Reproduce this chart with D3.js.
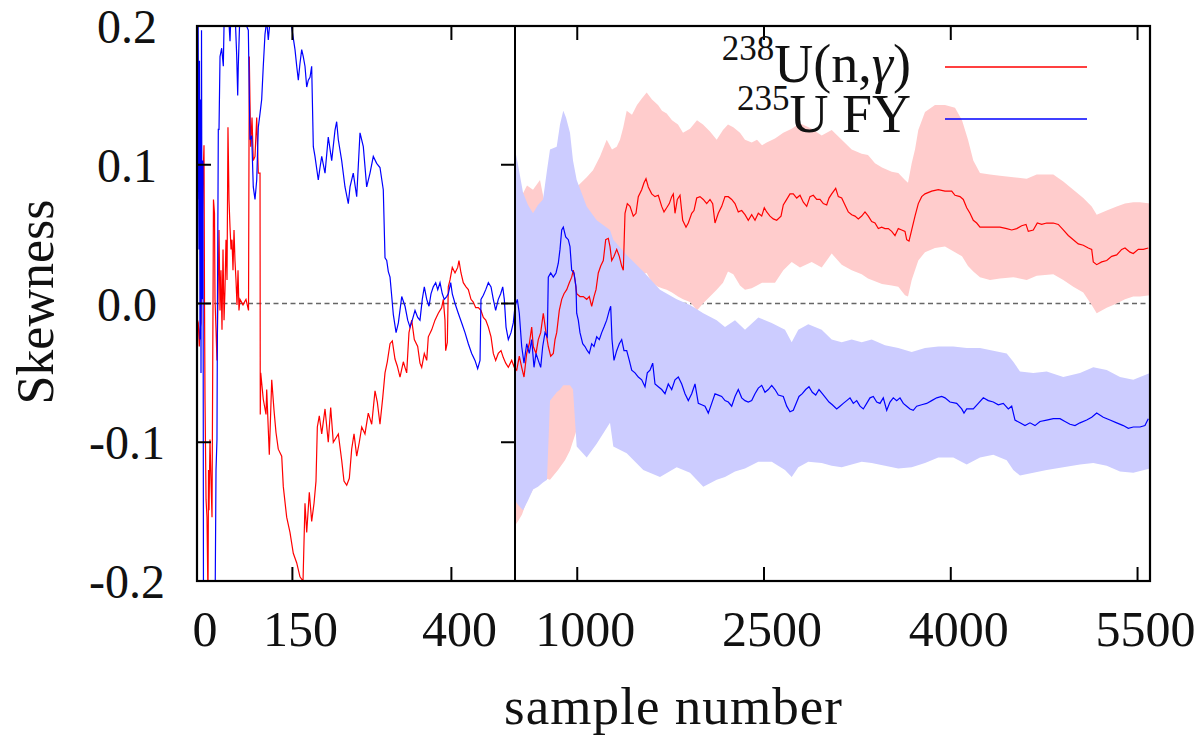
<!DOCTYPE html>
<html><head><meta charset="utf-8">
<script src="https://cdn.jsdelivr.net/npm/d3@7"></script>
<style>body{margin:0;background:#fff}svg{display:block}text{font-family:"Liberation Serif","Times New Roman",serif;fill:#111}</style>
</head><body><svg id="c" width="1202" height="735"></svg>
<script>
const xTicks = [0,150,400,1000,2500,4000,5500];
const xTickLabels = ["0","150","400","1000","2500","4000","5500"];
const yTicks = [-0.2,-0.1,0,0.1,0.2];
const yTickLabels = ["-0.2","-0.1","0.0","0.1","0.2"];
const seriesSup = ["238","235"];
const seriesMain = ["U(n,","U FY"];
const seriesGreek = ["\u03b3",""];
const seriesTail = [")",""];

// 238U(n,gamma) skewness [sample, value]
const redSkew = [[0.8,-0.012],[2.0,-0.014],[3.6,-0.031],[4.7,-0.019],[6.3,-0.014],[7.9,0.046],[9.4,0.089],[11.0,0.114],[11.8,0.003],[12.6,-0.069],[14.2,-0.141],[15.7,-0.154],[17.3,-0.213],[18.1,-0.120],[18.9,-0.149],[20.4,-0.098],[22.0,-0.127],[23.6,-0.154],[25.2,0.003],[25.9,0.075],[27.5,0.065],[28.3,0.003],[29.9,-0.019],[31.4,-0.041],[33.0,0.003],[34.6,0.053],[36.2,-0.005],[37.7,0.024],[39.3,-0.019],[40.9,0.039],[42.5,-0.012],[44.0,0.010],[45.6,0.046],[47.2,0.017],[48.7,0.127],[50.3,0.075],[51.9,0.055],[53.5,0.039],[55.0,0.046],[56.6,0.024],[58.2,0.053],[59.7,0.031],[61.3,0.017],[62.9,-0.001],[64.5,0.024],[66.0,-0.005],[67.6,0.003],[72.3,-0.001],[77.0,0.003],[81.0,-0.005],[82.2,0.178],[84.4,0.113],[86.5,0.134],[88.5,0.103],[91.2,0.106],[93.9,0.134],[96.4,0.094],[99.1,0.094],[99.5,-0.080],[100.2,-0.050],[104.2,-0.069],[108.5,-0.080],[109.6,-0.062],[113.7,-0.109],[117.5,-0.055],[121.1,-0.077],[124.2,-0.093],[127.8,-0.105],[133.2,-0.110],[135.7,-0.132],[141.0,-0.154],[146.2,-0.165],[151.4,-0.180],[156.8,-0.187],[161.9,-0.197],[166.7,-0.200],[169.8,-0.144],[172.5,-0.165],[176.6,-0.136],[180.3,-0.157],[184.0,-0.144],[187.1,-0.128],[189.2,-0.089],[192.3,-0.081],[196.1,-0.094],[201.3,-0.076],[206.4,-0.100],[210.2,-0.075],[214.3,-0.100],[222.2,-0.094],[227.5,-0.113],[231.1,-0.128],[235.4,-0.131],[239.5,-0.126],[243.2,-0.105],[246.9,-0.094],[251.1,-0.110],[255.2,-0.100],[259.0,-0.089],[264.1,-0.094],[269.3,-0.079],[274.7,-0.087],[279.9,-0.063],[283.5,-0.071],[287.7,-0.087],[292.0,-0.068],[295.6,-0.050],[299.2,-0.042],[303.5,-0.029],[307.1,-0.027],[311.3,-0.040],[314.9,-0.045],[319.2,-0.053],[324.4,-0.042],[327.0,-0.046],[329.7,-0.050],[333.3,-0.021],[337.6,-0.012],[341.7,-0.026],[347.0,-0.031],[350.6,-0.043],[353.3,-0.046],[357.4,-0.036],[361.2,-0.041],[363.7,-0.024],[369.0,-0.019],[374.2,-0.012],[379.4,-0.007],[384.7,-0.003],[387.3,0.003],[389.9,-0.012],[391.0,-0.034],[393.6,-0.028],[395.1,0.012],[397.8,0.017],[401.4,0.026],[405.7,0.022],[409.9,0.026],[411.9,0.031],[415.1,0.022],[418.7,0.015],[423.0,0.012],[426.6,0.010],[430.8,0.003],[434.4,0.001],[438.2,-0.003],[442.3,-0.003],[446.5,-0.005],[450.2,-0.010],[454.0,-0.012],[458.1,-0.017],[462.3,-0.024],[465.9,-0.036],[469.6,-0.041],[473.7,-0.036],[478.0,-0.034],[481.6,-0.039],[485.4,-0.043],[489.5,-0.046],[494.8,-0.041],[498.9,-0.046],[513.7,-0.048],[534.5,-0.038],[553.8,-0.046],[572.3,-0.053],[594.0,-0.036],[614.9,-0.029],[634.1,-0.017],[647.0,-0.031],[668.7,-0.036],[687.1,-0.026],[706.4,-0.021],[727.3,-0.007],[749.0,-0.021],[767.4,-0.031],[786.7,-0.038],[807.6,-0.036],[821.3,-0.026],[834.9,-0.021],[855.8,-0.005],[875.1,0.003],[893.5,0.007],[915.2,0.010],[936.1,0.015],[955.4,0.019],[968.2,0.024],[981.9,0.017],[995.5,0.007],[1022.0,0.005],[1048.6,0.005],[1075.9,0.003],[1096.7,0.005],[1116.0,-0.002],[1134.5,0.005],[1150.6,0.010],[1169.0,0.022],[1188.3,0.027],[1209.2,0.031],[1228.5,0.046],[1249.3,0.047],[1263.0,0.041],[1276.6,0.031],[1295.1,0.034],[1316.8,0.039],[1337.7,0.034],[1356.9,0.027],[1369.8,0.024],[1383.5,0.065],[1402.0,0.072],[1423.6,0.070],[1450.1,0.063],[1471.8,0.065],[1490.3,0.077],[1517.6,0.082],[1536.1,0.087],[1552.1,0.090],[1570.6,0.084],[1597.9,0.079],[1624.4,0.077],[1650.9,0.078],[1678.2,0.070],[1696.7,0.066],[1718.4,0.069],[1739.3,0.072],[1758.5,0.077],[1771.4,0.079],[1785.0,0.065],[1803.5,0.075],[1825.2,0.078],[1846.9,0.060],[1873.4,0.055],[1891.9,0.058],[1919.2,0.065],[1937.6,0.067],[1959.3,0.076],[1985.8,0.077],[2012.3,0.075],[2039.6,0.072],[2066.1,0.075],[2087.8,0.072],[2106.3,0.058],[2132.8,0.065],[2160.1,0.070],[2186.6,0.077],[2213.1,0.077],[2240.4,0.075],[2266.9,0.072],[2293.4,0.066],[2320.7,0.067],[2347.2,0.064],[2373.7,0.060],[2401.0,0.064],[2427.6,0.060],[2454.1,0.065],[2481.4,0.063],[2502.2,0.069],[2521.5,0.066],[2548.0,0.063],[2574.5,0.061],[2601.8,0.060],[2636.4,0.063],[2654.8,0.071],[2682.2,0.075],[2708.7,0.079],[2735.2,0.079],[2762.5,0.076],[2789.0,0.078],[2815.5,0.073],[2842.8,0.070],[2869.3,0.077],[2895.8,0.078],[2923.1,0.075],[2949.6,0.075],[2976.1,0.072],[3003.4,0.071],[3021.9,0.076],[3043.6,0.079],[3075.7,0.083],[3096.6,0.077],[3123.9,0.076],[3150.4,0.071],[3176.9,0.066],[3204.2,0.064],[3230.7,0.063],[3257.2,0.061],[3284.5,0.063],[3311.0,0.066],[3337.5,0.063],[3364.8,0.059],[3391.3,0.058],[3417.8,0.054],[3445.1,0.055],[3471.7,0.054],[3498.2,0.054],[3525.5,0.052],[3552.0,0.049],[3578.5,0.054],[3605.8,0.053],[3632.3,0.052],[3646.0,0.046],[3664.4,0.045],[3686.1,0.053],[3712.6,0.063],[3739.1,0.072],[3766.4,0.077],[3792.9,0.079],[3846.7,0.081],[3899.7,0.082],[3953.5,0.081],[4007.3,0.081],[4033.9,0.078],[4074.0,0.077],[4100.5,0.075],[4127.9,0.069],[4154.3,0.065],[4180.8,0.060],[4208.1,0.058],[4234.6,0.055],[4288.4,0.055],[4341.4,0.055],[4395.3,0.055],[4449.1,0.054],[4489.2,0.053],[4529.4,0.054],[4569.5,0.056],[4604.1,0.057],[4622.5,0.052],[4662.7,0.053],[4694.8,0.058],[4730.1,0.057],[4770.3,0.058],[4823.3,0.058],[4863.4,0.057],[4903.6,0.053],[4943.7,0.049],[4983.9,0.046],[5024.0,0.043],[5064.2,0.042],[5104.4,0.040],[5131.7,0.039],[5144.5,0.030],[5171.9,0.028],[5212.0,0.030],[5252.2,0.031],[5292.3,0.034],[5332.5,0.035],[5372.7,0.039],[5399.2,0.040],[5439.3,0.037],[5465.8,0.036],[5506.0,0.039],[5546.1,0.039],[5586.3,0.040]];

// 235U FY skewness [sample, value]
const blueSkew = [[0.8,0.075],[1.6,0.226],[3.1,0.039],[3.9,0.175],[4.7,-0.026],[5.5,0.147],[6.3,-0.050],[7.1,0.197],[7.9,0.003],[9.4,0.103],[10.2,-0.228],[20.4,-0.235],[28.3,-0.228],[29.9,-0.120],[31.4,-0.098],[32.2,0.003],[33.0,0.075],[33.5,0.126],[34.6,0.125],[36.2,0.178],[38.8,0.184],[41.4,0.171],[42.9,0.211],[49.2,0.211],[51.9,0.189],[53.5,0.211],[59.7,0.211],[62.4,0.179],[64.0,0.150],[64.9,0.171],[67.6,0.211],[80.7,0.197],[83.3,0.118],[86.0,0.121],[88.5,0.084],[91.2,0.075],[93.9,0.089],[96.4,0.127],[99.1,0.137],[101.7,0.147],[104.2,0.171],[106.9,0.194],[109.6,0.204],[112.1,0.190],[114.8,0.204],[130.5,0.211],[146.2,0.208],[148.9,0.199],[154.1,0.183],[156.8,0.171],[159.3,0.161],[161.9,0.173],[164.6,0.183],[167.1,0.178],[169.8,0.171],[172.5,0.156],[175.0,0.161],[177.7,0.163],[180.3,0.171],[182.9,0.113],[185.5,0.106],[190.7,0.089],[193.4,0.098],[196.1,0.106],[201.3,0.094],[206.4,0.120],[211.8,0.103],[217.0,0.125],[219.6,0.131],[222.2,0.118],[227.5,0.103],[232.7,0.084],[237.9,0.072],[240.6,0.084],[245.7,0.094],[251.1,0.077],[256.3,0.123],[261.5,0.113],[266.8,0.084],[272.0,0.094],[277.2,0.106],[282.5,0.101],[287.7,0.098],[292.9,0.082],[295.6,0.033],[298.3,0.031],[300.8,0.023],[303.5,0.019],[306.2,0.005],[308.7,-0.008],[313.0,-0.021],[316.6,-0.014],[321.9,0.005],[327.1,-0.002],[331.3,-0.012],[334.9,-0.017],[338.5,-0.012],[342.8,-0.005],[347.0,-0.010],[350.6,-0.012],[354.2,0.003],[357.4,0.012],[361.2,0.003],[364.8,-0.002],[367.9,0.007],[371.5,0.012],[375.3,0.015],[378.5,0.010],[382.1,0.015],[385.7,0.007],[388.8,0.003],[392.6,0.005],[395.1,0.007],[398.9,0.015],[401.4,0.007],[405.7,0.000],[410.8,-0.007],[416.2,-0.014],[421.4,-0.021],[426.6,-0.029],[431.9,-0.036],[437.1,-0.041],[441.3,-0.047],[445.0,-0.041],[446.5,0.003],[450.2,0.006],[454.0,0.010],[458.1,0.015],[462.3,0.012],[465.9,0.003],[469.6,-0.005],[473.7,0.003],[477.5,0.007],[480.7,0.012],[483.2,0.003],[485.9,-0.017],[489.5,-0.026],[493.7,-0.021],[497.3,-0.014],[500.0,-0.002],[518.5,0.003],[534.5,-0.007],[553.8,-0.031],[572.3,-0.043],[594.0,-0.029],[614.9,-0.036],[634.1,-0.026],[652.6,-0.046],[668.7,-0.036],[687.1,-0.041],[706.4,-0.046],[722.5,-0.031],[740.9,-0.021],[759.4,-0.024],[767.4,0.019],[786.7,0.022],[807.6,0.019],[829.3,0.022],[847.8,0.029],[861.4,0.039],[875.1,0.053],[887.9,0.055],[907.2,0.048],[928.1,0.046],[941.7,0.041],[955.4,0.024],[973.9,0.022],[989.9,0.012],[995.5,-0.007],[1008.4,-0.012],[1022.0,-0.021],[1043.7,-0.029],[1062.2,-0.031],[1080.7,-0.034],[1096.7,-0.036],[1116.0,-0.029],[1134.5,-0.031],[1156.2,-0.024],[1177.1,-0.026],[1196.3,-0.021],[1214.8,-0.017],[1236.5,-0.012],[1257.4,-0.005],[1268.6,-0.002],[1279.1,-0.026],[1295.1,-0.041],[1316.8,-0.034],[1337.7,-0.029],[1356.9,-0.026],[1375.4,-0.034],[1397.1,-0.034],[1418.0,-0.041],[1437.3,-0.048],[1463.8,-0.050],[1490.3,-0.053],[1517.6,-0.055],[1544.1,-0.060],[1562.5,-0.050],[1584.3,-0.048],[1605.9,-0.043],[1624.4,-0.058],[1650.9,-0.060],[1678.2,-0.062],[1704.7,-0.065],[1731.2,-0.058],[1758.5,-0.062],[1785.0,-0.055],[1811.6,-0.053],[1838.9,-0.058],[1865.4,-0.065],[1891.9,-0.070],[1919.2,-0.065],[1945.7,-0.058],[1972.2,-0.072],[1999.5,-0.073],[2026.0,-0.074],[2052.5,-0.079],[2079.8,-0.072],[2106.3,-0.065],[2132.8,-0.066],[2160.1,-0.067],[2186.6,-0.070],[2213.1,-0.071],[2240.4,-0.074],[2266.9,-0.067],[2293.4,-0.062],[2320.7,-0.068],[2347.2,-0.070],[2373.7,-0.071],[2401.0,-0.070],[2427.6,-0.065],[2454.1,-0.061],[2481.4,-0.059],[2507.9,-0.064],[2534.4,-0.062],[2561.7,-0.059],[2588.2,-0.062],[2614.7,-0.066],[2654.8,-0.067],[2682.2,-0.074],[2708.7,-0.078],[2735.2,-0.077],[2762.5,-0.071],[2780.9,-0.067],[2807.4,-0.065],[2834.7,-0.062],[2861.3,-0.060],[2887.8,-0.064],[2915.1,-0.066],[2941.6,-0.062],[2968.1,-0.065],[2995.4,-0.068],[3021.9,-0.071],[3048.4,-0.073],[3083.7,-0.076],[3110.2,-0.074],[3136.7,-0.072],[3164.1,-0.070],[3190.6,-0.068],[3217.1,-0.072],[3244.4,-0.070],[3270.9,-0.074],[3297.4,-0.076],[3324.7,-0.072],[3351.2,-0.068],[3377.7,-0.067],[3405.0,-0.071],[3431.5,-0.072],[3458.0,-0.068],[3485.4,-0.077],[3511.8,-0.071],[3538.3,-0.068],[3565.6,-0.070],[3592.1,-0.068],[3618.6,-0.072],[3646.0,-0.074],[3672.4,-0.076],[3698.9,-0.077],[3726.2,-0.074],[3766.4,-0.073],[3806.5,-0.072],[3846.7,-0.070],[3886.8,-0.068],[3927.0,-0.067],[3953.5,-0.068],[3993.7,-0.071],[4047.5,-0.072],[4087.7,-0.076],[4106.1,-0.079],[4127.9,-0.076],[4180.8,-0.076],[4221.0,-0.072],[4261.2,-0.068],[4301.3,-0.070],[4341.4,-0.071],[4381.6,-0.073],[4421.8,-0.072],[4461.9,-0.076],[4489.2,-0.074],[4515.7,-0.084],[4555.9,-0.086],[4596.0,-0.088],[4636.2,-0.086],[4676.3,-0.088],[4716.5,-0.085],[4770.3,-0.084],[4823.3,-0.083],[4877.2,-0.083],[4917.3,-0.085],[4957.5,-0.087],[4997.6,-0.088],[5037.8,-0.086],[5091.6,-0.084],[5131.7,-0.082],[5171.9,-0.079],[5224.9,-0.082],[5278.7,-0.084],[5332.5,-0.086],[5385.6,-0.088],[5425.7,-0.090],[5465.8,-0.089],[5519.7,-0.089],[5559.5,-0.088],[5586.3,-0.083]];

// uncertainty bands [sample, lower, upper]
const redBand = [[500,-0.160,0.053],[524.1,-0.157,0.067],[556.2,-0.152,0.078],[596.4,-0.142,0.085],[644.6,-0.134,0.082],[700.8,-0.124,0.089],[741.0,-0.126,0.071],[781.1,-0.127,0.078],[845.4,-0.120,0.082],[901.6,-0.113,0.082],[941.7,-0.106,0.082],[995.5,-0.091,0.084],[1075.9,-0.073,0.091],[1126.5,-0.062,0.096],[1182.7,-0.052,0.106],[1236.5,-0.037,0.118],[1279.1,-0.026,0.111],[1316.8,-0.015,0.113],[1343.3,-0.008,0.118],[1369.8,-0.001,0.127],[1397.1,0.010,0.139],[1439.7,0.018,0.136],[1479.8,0.017,0.143],[1520.0,0.021,0.148],[1557.7,0.022,0.152],[1600.3,0.015,0.147],[1648.5,0.012,0.143],[1680.6,0.011,0.139],[1718.4,0.010,0.137],[1760.9,0.008,0.132],[1809.1,0.005,0.129],[1849.3,0.003,0.123],[1905.5,0.001,0.126],[1961.7,-0.005,0.132],[2009.9,0.000,0.129],[2066.1,0.005,0.124],[2119.9,0.010,0.118],[2170.5,0.015,0.125],[2210.7,0.023,0.129],[2253.2,0.021,0.127],[2307.1,0.013,0.123],[2347.2,0.010,0.118],[2401.0,0.011,0.116],[2443.6,0.013,0.118],[2483.8,0.015,0.114],[2521.5,0.015,0.116],[2588.2,0.015,0.119],[2654.8,0.024,0.123],[2722.3,0.030,0.126],[2789.0,0.026,0.130],[2882.9,0.030,0.126],[2963.2,0.026,0.121],[3043.6,0.036,0.125],[3123.9,0.028,0.118],[3204.2,0.024,0.111],[3284.5,0.021,0.108],[3335.1,0.018,0.107],[3391.3,0.016,0.101],[3447.5,0.014,0.098],[3525.5,0.013,0.095],[3578.5,0.012,0.094],[3632.3,0.006,0.089],[3656.4,0.005,0.087],[3686.1,0.017,0.101],[3712.6,0.024,0.111],[3739.1,0.031,0.125],[3792.9,0.037,0.138],[3873.2,0.040,0.143],[3953.5,0.041,0.143],[4033.9,0.037,0.141],[4090.1,0.034,0.132],[4138.3,0.027,0.118],[4180.8,0.023,0.103],[4234.6,0.019,0.094],[4314.9,0.017,0.093],[4395.3,0.018,0.092],[4502.1,0.019,0.091],[4609.7,0.017,0.090],[4690.0,0.020,0.093],[4823.3,0.021,0.093],[4903.6,0.017,0.088],[4983.9,0.012,0.082],[5064.2,0.008,0.076],[5131.7,-0.001,0.070],[5171.9,-0.007,0.064],[5252.2,-0.003,0.067],[5332.5,0.000,0.070],[5399.2,0.003,0.072],[5465.8,0.005,0.073],[5519.7,0.005,0.073],[5600,0.006,0.072]];

const blueBand = [[500,-0.142,0.111],[524.1,-0.145,0.100],[564.3,-0.149,0.080],[604.4,-0.142,0.071],[644.6,-0.134,0.065],[684.7,-0.132,0.071],[724.9,-0.129,0.075],[757.0,-0.127,0.096],[781.1,-0.070,0.111],[834.9,-0.064,0.113],[861.4,-0.062,0.129],[887.9,-0.059,0.139],[909.6,-0.059,0.134],[941.7,-0.059,0.123],[965.8,-0.062,0.103],[995.5,-0.103,0.089],[1075.9,-0.111,0.070],[1156.2,-0.101,0.060],[1263.0,-0.086,0.053],[1289.5,-0.103,0.046],[1397.1,-0.108,0.035],[1530.4,-0.120,0.023],[1664.6,-0.125,0.010],[1798.7,-0.118,0.003],[1905.5,-0.122,-0.001],[2012.3,-0.132,-0.007],[2119.9,-0.127,-0.012],[2186.6,-0.125,-0.017],[2266.9,-0.121,-0.012],[2347.2,-0.119,-0.019],[2454.1,-0.114,-0.010],[2561.7,-0.114,-0.014],[2668.5,-0.120,-0.019],[2722.3,-0.125,-0.028],[2775.3,-0.118,-0.019],[2855.6,-0.114,-0.015],[2963.2,-0.115,-0.019],[3043.6,-0.117,-0.026],[3123.9,-0.118,-0.028],[3204.2,-0.116,-0.026],[3284.5,-0.114,-0.028],[3364.8,-0.115,-0.026],[3471.7,-0.117,-0.030],[3578.5,-0.119,-0.032],[3686.1,-0.118,-0.035],[3792.9,-0.115,-0.032],[3899.7,-0.111,-0.031],[4020.2,-0.111,-0.031],[4127.9,-0.116,-0.032],[4234.6,-0.111,-0.032],[4341.4,-0.109,-0.034],[4449.1,-0.113,-0.036],[4502.1,-0.120,-0.042],[4555.9,-0.124,-0.049],[4662.7,-0.122,-0.050],[4770.3,-0.120,-0.049],[4903.6,-0.118,-0.053],[5037.8,-0.116,-0.050],[5144.5,-0.115,-0.046],[5252.2,-0.117,-0.048],[5359.1,-0.121,-0.053],[5465.8,-0.122,-0.055],[5600,-0.119,-0.050]];

const svg = d3.select("#c");
const L = 197, R = 1150, T = 26, B = 581;
const x = d3.scaleLinear().domain([0, 500, 5600]).range([L, 515, R]);
const y = d3.scaleLinear().domain([-0.2, 0.2]).range([B, T]);

svg.append("defs").append("clipPath").attr("id","plot")
  .append("rect").attr("x",L).attr("y",T).attr("width",R-L).attr("height",B-T);

const g = svg.append("g").attr("clip-path","url(#plot)");

// zero line
g.append("line").attr("x1",L).attr("x2",R).attr("y1",y(0)).attr("y2",y(0))
  .attr("stroke","#666").attr("stroke-width",1.6).attr("stroke-dasharray","5,3.5");

const area = d3.area().x(d=>x(d[0])).y0(d=>y(d[1])).y1(d=>y(d[2]));
g.append("path").datum(redBand).attr("d",area).attr("fill","#ffcccc");
g.append("path").datum(blueBand).attr("d",area).attr("fill","#ccccff");

const line = d3.line().x(d=>x(d[0])).y(d=>y(d[1]));
g.append("path").datum(redSkew).attr("d",line).attr("fill","none").attr("stroke","#ff0000").attr("stroke-width",1.2);
g.append("path").datum(blueSkew).attr("d",line).attr("fill","none").attr("stroke","#0000ff").attr("stroke-width",1.2);

// frame
const ax = svg.append("g").attr("stroke","#000").attr("fill","none");
ax.append("rect").attr("x",L).attr("y",T).attr("width",R-L).attr("height",B-T).attr("stroke-width",2.2);
ax.append("line").attr("x1",x(500)).attr("x2",x(500)).attr("y1",T).attr("y2",B).attr("stroke-width",2);

// ticks
const tl = 14;
xTicks.forEach(v=>{
  if (v===0) return;
  ax.append("line").attr("x1",x(v)).attr("x2",x(v)).attr("y1",B).attr("y2",B-tl).attr("stroke-width",2);
  ax.append("line").attr("x1",x(v)).attr("x2",x(v)).attr("y1",T).attr("y2",T+tl).attr("stroke-width",2);
});
yTicks.forEach(v=>{
  ax.append("line").attr("x1",L).attr("x2",L+tl).attr("y1",y(v)).attr("y2",y(v)).attr("stroke-width",2);
  ax.append("line").attr("x1",x(500)).attr("x2",x(500)-tl).attr("y1",y(v)).attr("y2",y(v)).attr("stroke-width",2);
});

// tick labels
svg.append("g").selectAll("text").data(xTicks).join("text")
  .attr("x",d=>x(d)+8).attr("y",646).attr("text-anchor","middle")
  .attr("font-size",50).text((d,i)=>xTickLabels[i]);
svg.append("g").selectAll("text").data(yTicks).join("text")
  .attr("x",127).attr("y",d=>y(d)+17).attr("text-anchor","middle")
  .attr("font-size",48).text((d,i)=>yTickLabels[i]);

// axis titles
svg.append("text").attr("x",673).attr("y",724).attr("text-anchor","middle")
  .attr("font-size",53).attr("textLength",338).attr("lengthAdjust","spacing").text("sample number");
svg.append("text").attr("transform","translate(53,302) rotate(-90)").attr("text-anchor","middle")
  .attr("font-size",52).text("Skewness");

// legend
const legColors = ["#ff0000","#0000ff"];
const legBase = [82, 132];
const legLineY = [67, 119];
seriesMain.forEach((nm,i)=>{
  const t = svg.append("text").attr("x",911).attr("y",legBase[i]).attr("text-anchor","end").attr("font-size",54);
  t.append("tspan").attr("font-size",35).attr("dy",-22).text(seriesSup[i]);
  t.append("tspan").attr("dy",22).text(nm);
  if (seriesGreek[i]) t.append("tspan").attr("font-style","italic").text(seriesGreek[i]);
  if (seriesTail[i]) t.append("tspan").text(seriesTail[i]);
  svg.append("line").attr("x1",945).attr("x2",1087).attr("y1",legLineY[i]).attr("y2",legLineY[i])
    .attr("stroke",legColors[i]).attr("stroke-width",1.5);
});
</script></body></html>
